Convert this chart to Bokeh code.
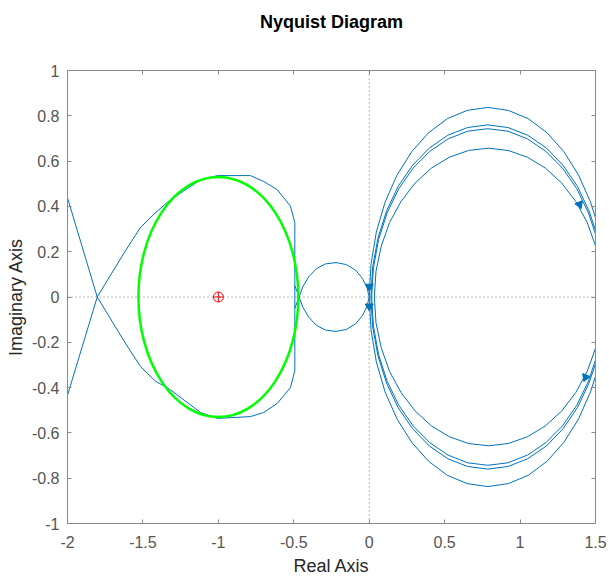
from bokeh.plotting import figure
from bokeh.models import LinearAxis, Span, Range1d, FixedTicker, CustomJSTickFormatter
from bokeh.embed import file_html
from bokeh.resources import INLINE

# ---- data ----
x_ticks = [-2, -1.5, -1, -0.5, 0, 0.5, 1, 1.5]
x_tick_labels = ["-2", "-1.5", "-1", "-0.5", "0", "0.5", "1", "1.5"]
y_ticks = [-1, -0.8, -0.6, -0.4, -0.2, 0, 0.2, 0.4, 0.6, 0.8, 1]
y_tick_labels = ["-1", "-0.8", "-0.6", "-0.4", "-0.2", "0", "0.2", "0.4", "0.6", "0.8", "1"]

# left part of the Nyquist curve (X crossing and loop around -1)
left_x = [-2.0, -1.803, -1.62, -1.516, -1.42, -1.317, -1.118, -1.007, -0.787, -0.70, -0.61, -0.522,
          -0.493, -0.493, -0.522, -0.61, -0.70, -0.787, -1.007, -1.118, -1.317, -1.42, -1.516,
          -1.62, -1.803, -2.0]
left_y = [0.438, 0.0, -0.20, -0.307, -0.37, -0.41, -0.51, -0.536, -0.528, -0.51, -0.47, -0.40,
          -0.325, 0.329, 0.401, 0.474, 0.51, 0.536, 0.536, 0.517, 0.43, 0.37, 0.307,
          0.20, 0.0, -0.434]

# small lobe between -0.47 and the origin
lobe_x = [-0.493, -0.465, -0.44, -0.40, -0.35, -0.29, -0.22, -0.15, -0.09, -0.045, -0.015, 0.0,
          -0.015, -0.045, -0.09, -0.15, -0.22, -0.29, -0.35, -0.40, -0.44, -0.465, -0.493]
lobe_y = [0.05, 0.0, -0.045, -0.09, -0.125, -0.146, -0.152, -0.143, -0.118, -0.082, -0.042, 0.0,
          0.042, 0.082, 0.118, 0.143, 0.152, 0.146, 0.125, 0.09, 0.045, 0.0, -0.05]

# right-hand loops (visible parts, leaving the axes at Re = 1.5)
loop1_x = [1.5, 1.467, 1.388, 1.291, 1.179, 1.055, 0.922, 0.786, 0.650, 0.517, 0.393, 0.281,
           0.184, 0.105, 0.047, 0.012, 0.0,
           0.012, 0.047, 0.105, 0.184, 0.281, 0.393, 0.517, 0.650, 0.786, 0.922, 1.055,
           1.179, 1.291, 1.388, 1.467, 1.5]
loop1_y = [0.35, 0.419, 0.538, 0.641, 0.725, 0.787, 0.824, 0.837, 0.824, 0.787, 0.725, 0.641,
           0.538, 0.419, 0.286, 0.145, 0.0,
           -0.145, -0.286, -0.419, -0.538, -0.641, -0.725, -0.787, -0.824, -0.837, -0.824, -0.787,
           -0.725, -0.641, -0.538, -0.419, -0.35]
loop2_x = [1.5, 1.457, 1.380, 1.284, 1.174, 1.051, 0.921, 0.786, 0.651, 0.521, 0.399, 0.288,
           0.192, 0.115, 0.058, 0.023, 0.011,
           0.023, 0.058, 0.115, 0.192, 0.288, 0.399, 0.521, 0.651, 0.786, 0.921, 1.051,
           1.174, 1.284, 1.380, 1.457, 1.5]
loop2_y = [0.295, 0.38, 0.489, 0.582, 0.658, 0.714, 0.748, 0.76, 0.748, 0.714, 0.658, 0.582,
           0.489, 0.38, 0.26, 0.132, 0.0,
           -0.132, -0.26, -0.38, -0.489, -0.582, -0.658, -0.714, -0.748, -0.76, -0.748, -0.714,
           -0.658, -0.582, -0.489, -0.38, -0.295]
loop3_x = [1.5, 1.453, 1.376, 1.281, 1.171, 1.049, 0.920, 0.786, 0.652, 0.523, 0.401, 0.291,
           0.196, 0.119, 0.062, 0.028, 0.016,
           0.028, 0.062, 0.119, 0.196, 0.291, 0.401, 0.523, 0.652, 0.786, 0.920, 1.049,
           1.171, 1.281, 1.376, 1.453, 1.5]
loop3_y = [0.278, 0.372, 0.478, 0.569, 0.643, 0.698, 0.732, 0.743, 0.732, 0.698, 0.643, 0.569,
           0.478, 0.372, 0.254, 0.129, 0.0,
           -0.129, -0.254, -0.372, -0.478, -0.569, -0.643, -0.698, -0.732, -0.743, -0.732, -0.698,
           -0.643, -0.569, -0.478, -0.372, -0.278]
loop4_x = [1.5, 1.445, 1.369, 1.276, 1.168, 1.049, 0.921, 0.790, 0.659, 0.531, 0.412, 0.304,
           0.211, 0.135, 0.080, 0.045, 0.034,
           0.045, 0.080, 0.135, 0.211, 0.304, 0.412, 0.531, 0.659, 0.790, 0.921, 1.049,
           1.168, 1.276, 1.369, 1.445, 1.5]
loop4_y = [0.226, 0.329, 0.422, 0.503, 0.569, 0.617, 0.647, 0.657, 0.647, 0.617, 0.569, 0.503,
           0.422, 0.329, 0.225, 0.114, 0.0,
           -0.114, -0.225, -0.329, -0.422, -0.503, -0.569, -0.617, -0.647, -0.657, -0.647, -0.617,
           -0.569, -0.503, -0.422, -0.329, -0.226]

# arrow positions and directions (radians)
arrow_x = [1.394, 1.434, 0.0, 0.0]
arrow_y = [0.409, -0.354, 0.046, -0.041]
arrow_angle = [-2.75, 2.75, 3.14159, 3.14159]

# critical point and green reference circle
crit_x = [-1.0]
crit_y = [0.0]
circle_cx = [-1.0]
circle_cy = [0.0]
circle_d = [1.06]

TITLE = "Nyquist Diagram"
BLUE = "#0072BD"
AX = "#8a8a8a"
FONT = "Liberation Sans"

p = figure(width=609, height=578, output_backend="svg", toolbar_location=None,
           x_range=Range1d(-2, 1.5), y_range=Range1d(-1, 1),
           min_border_left=67, min_border_right=14, min_border_top=70, min_border_bottom=50)
p.background_fill_color = "white"
p.border_fill_color = "white"
p.outline_line_color = AX
p.grid.visible = False

for ax in [p.xaxis[0], p.yaxis[0]]:
    ax.major_tick_in = 4
    ax.major_tick_out = 0
    ax.minor_tick_line_color = None
    ax.axis_line_color = AX
    ax.major_tick_line_color = AX
    ax.major_label_text_font = FONT
    ax.major_label_text_font_size = "16px"
    ax.major_label_text_color = "#555555"
    ax.axis_label_text_font = FONT
    ax.axis_label_text_font_size = "18px"
    ax.axis_label_text_font_style = "normal"
    ax.axis_label_text_color = "#262626"

p.xaxis[0].major_label_text_line_height = 0.8
p.xaxis[0].axis_label_text_line_height = 0.6
p.yaxis[0].major_label_text_line_height = 1.0
p.yaxis[0].axis_label_text_line_height = 0.9

p.xaxis[0].ticker = FixedTicker(ticks=x_ticks)
p.xaxis[0].major_label_overrides = {t: l for t, l in zip(x_ticks, x_tick_labels)}
p.yaxis[0].ticker = FixedTicker(ticks=y_ticks)
p.yaxis[0].major_label_overrides = {t: l for t, l in zip(y_ticks, y_tick_labels)}
p.xaxis[0].axis_label = "Real Axis"
p.yaxis[0].axis_label = "Imaginary Axis"
p.xaxis[0].major_label_standoff = 12
p.xaxis[0].axis_label_standoff = 5
p.yaxis[0].major_label_standoff = 8
p.yaxis[0].axis_label_standoff = 3

blank = CustomJSTickFormatter(code="return ''")
top_ax = LinearAxis(ticker=FixedTicker(ticks=x_ticks), formatter=blank)
right_ax = LinearAxis(ticker=FixedTicker(ticks=y_ticks), formatter=blank)
for ax in [top_ax, right_ax]:
    ax.major_tick_in = 4
    ax.major_tick_out = 0
    ax.minor_tick_line_color = None
    ax.axis_line_color = AX
    ax.major_tick_line_color = AX
    ax.major_label_standoff = 0

# the title is carried by the top axis so that its distance to the box is fixed
top_ax.axis_label = TITLE
top_ax.axis_label_text_font = FONT
top_ax.axis_label_text_font_size = "18px"
top_ax.axis_label_text_font_style = "bold"
top_ax.axis_label_text_color = "black"
top_ax.axis_label_text_line_height = 1.0
top_ax.axis_label_standoff = 39

p.add_layout(top_ax, "above")
p.add_layout(right_ax, "right")

# dotted zero lines
p.add_layout(Span(location=0, dimension="height", line_color="#777777", line_dash="1 3", line_width=1))
p.add_layout(Span(location=0, dimension="width", line_color="#777777", line_dash="1 3", line_width=1))

# curves
p.line(left_x, left_y, line_color=BLUE, line_width=1)
p.line(lobe_x, lobe_y, line_color=BLUE, line_width=1)
for lx, ly in [(loop1_x, loop1_y), (loop2_x, loop2_y), (loop3_x, loop3_y), (loop4_x, loop4_y)]:
    p.line(lx, ly, line_color=BLUE, line_width=1)
p.scatter(arrow_x, arrow_y, marker="triangle", angle=arrow_angle, size=8,
          fill_color=BLUE, line_color=BLUE)

p.ellipse(x=circle_cx, y=circle_cy, width=circle_d, height=circle_d,
          fill_color=None, line_color="#00ff00", line_width=2.5)
p.scatter(crit_x, crit_y, marker="circle_cross", size=10, fill_color=None,
          line_color="red", line_width=1)

open("out.html", "w").write(file_html(p, INLINE))
